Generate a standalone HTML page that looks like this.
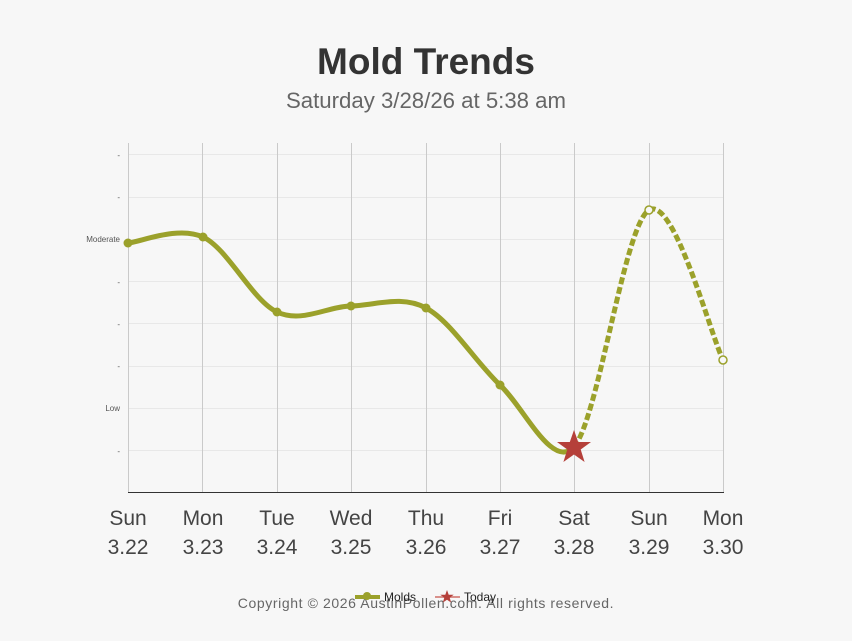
<!DOCTYPE html>
<html><head><meta charset="utf-8"><style>
html,body{margin:0;padding:0;background:#f7f7f7;}
body{width:852px;height:636px;overflow:hidden;font-family:"Liberation Sans",sans-serif;}
</style></head><body>
<svg width="852" height="636" xmlns="http://www.w3.org/2000/svg" font-family="Liberation Sans, sans-serif">
<rect width="852" height="636" fill="#f7f7f7"/>
<text x="426" y="74" text-anchor="middle" font-size="37" font-weight="bold" fill="#333">Mold Trends</text>
<text x="426" y="108" text-anchor="middle" font-size="22.2" fill="#666">Saturday 3/28/26 at 5:38 am</text>
<g stroke="#e8e8e8" stroke-width="1">
<line x1="128" x2="723" y1="154.5" y2="154.5"/><line x1="128" x2="723" y1="197.5" y2="197.5"/>
<line x1="128" x2="723" y1="239.5" y2="239.5"/><line x1="128" x2="723" y1="281.5" y2="281.5"/>
<line x1="128" x2="723" y1="323.5" y2="323.5"/><line x1="128" x2="723" y1="366.5" y2="366.5"/>
<line x1="128" x2="723" y1="408.5" y2="408.5"/><line x1="128" x2="723" y1="450.5" y2="450.5"/>
</g>
<g stroke="#cacaca" stroke-width="1">
<line x1="128.5" x2="128.5" y1="143" y2="492"/><line x1="202.5" x2="202.5" y1="143" y2="492"/>
<line x1="277.5" x2="277.5" y1="143" y2="492"/><line x1="351.5" x2="351.5" y1="143" y2="492"/>
<line x1="426.5" x2="426.5" y1="143" y2="492"/><line x1="500.5" x2="500.5" y1="143" y2="492"/>
<line x1="574.5" x2="574.5" y1="143" y2="492"/><line x1="649.5" x2="649.5" y1="143" y2="492"/>
<line x1="723.5" x2="723.5" y1="143" y2="492"/>
</g>
<line x1="128" x2="724" y1="492.5" y2="492.5" stroke="#333" stroke-width="1"/>
<g font-size="8" fill="#555" text-anchor="end">
<text x="120" y="158">-</text><text x="120" y="200">-</text><text x="120" y="242">Moderate</text>
<text x="120" y="285">-</text><text x="120" y="327">-</text><text x="120" y="369">-</text>
<text x="120" y="411">Low</text><text x="120" y="454">-</text>
</g>
<g font-size="21" fill="#444" text-anchor="middle">
<text x="128" y="525">Sun</text><text x="128" y="554">3.22</text>
<text x="203" y="525">Mon</text><text x="203" y="554">3.23</text>
<text x="277" y="525">Tue</text><text x="277" y="554">3.24</text>
<text x="351" y="525">Wed</text><text x="351" y="554">3.25</text>
<text x="426" y="525">Thu</text><text x="426" y="554">3.26</text>
<text x="500" y="525">Fri</text><text x="500" y="554">3.27</text>
<text x="574" y="525">Sat</text><text x="574" y="554">3.28</text>
<text x="649" y="525">Sun</text><text x="649" y="554">3.29</text>
<text x="723" y="525">Mon</text><text x="723" y="554">3.30</text>
</g>
<path d="M128,243 C140.5,242 178,225.5 203,237 C227.8,248.5 252.3,300.5 277,312 C301.7,323.5 326.2,306.7 351,306 C375.8,305.3 401.2,294.8 426,308 C450.8,321.2 475.3,361.8 500,385 C524.7,408.2 552,470 574,447" fill="none" stroke="#9ba12b" stroke-width="5" stroke-linecap="round"/>
<path d="M574,447 C598.8,417.8 624.2,224.8 649,210 C673.8,195.2 710.7,335 723,360" fill="none" stroke="#9ba12b" stroke-width="5" stroke-dasharray="7,3"/>
<g fill="#9ba12b">
<circle cx="128" cy="243" r="4.5"/><circle cx="203" cy="237" r="4.5"/><circle cx="277" cy="312" r="4.5"/>
<circle cx="351" cy="306" r="4.5"/><circle cx="426" cy="308" r="4.5"/><circle cx="500" cy="385" r="4.5"/>
</g>
<circle cx="649" cy="210" r="4" fill="#f7f7f7" stroke="#9ba12b" stroke-width="1.5"/>
<circle cx="723" cy="360" r="4" fill="#f7f7f7" stroke="#9ba12b" stroke-width="1.5"/>
<polygon points="574,430 578.2,442 591,442 580.7,449.5 584.6,462 574,454.5 563.4,462 567.3,449.5 557,442 569.8,442" fill="#b5403a"/>
<text x="426" y="608" text-anchor="middle" font-size="14" letter-spacing="0.6" fill="#666">Copyright © 2026 AustinPollen.com.  All rights reserved.</text>
<line x1="355" x2="380" y1="597" y2="597" stroke="#9ba12b" stroke-width="4"/>
<circle cx="367" cy="596" r="4" fill="#9ba12b"/>
<text x="384" y="601" font-size="12" fill="#222">Molds</text>
<line x1="435" x2="460" y1="597" y2="597" stroke="#d9908b" stroke-width="2"/>
<polygon points="447,590 448.7,594.8 453.7,594.8 449.7,597.8 451.2,602.6 447,599.7 442.8,602.6 444.3,597.8 440.3,594.8 445.3,594.8" fill="#b5403a"/>
<text x="464" y="601" font-size="12" fill="#222">Today</text>
</svg>
</body></html>
